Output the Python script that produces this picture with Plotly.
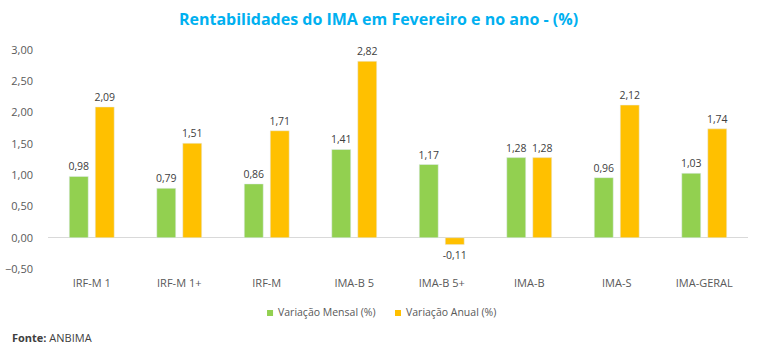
import plotly.graph_objects as go

categories = ["IRF-M 1", "IRF-M 1+", "IRF-M", "IMA-B 5", "IMA-B 5+", "IMA-B", "IMA-S", "IMA-GERAL"]
mensal = [0.98, 0.79, 0.86, 1.41, 1.17, 1.28, 0.96, 1.03]
anual = [2.09, 1.51, 1.71, 2.82, -0.11, 1.28, 2.12, 1.74]
y_ticks = [-0.5, 0, 0.5, 1.0, 1.5, 2.0, 2.5, 3.0]
series_names = ["Variação Mensal (%)", "Variação Anual (%)"]
colors = ["#92D050", "#FFC000"]

font_family = "Open Sans, DejaVu Sans, sans-serif"
tcol = "#595959"

fig = go.Figure()
for vals, name, col in zip([mensal, anual], series_names, colors):
    fig.add_trace(go.Bar(x=categories, y=vals, name=name, showlegend=False,
                         marker_color=col, texttemplate="%{y:.2f}", textposition="outside",
                         constraintext="none",
                         textfont=dict(size=10.5, color="#404040"), cliponaxis=False))

# manual compact legend (small squares + labels)
shapes = []
annotations = []
leg_sq_x = [0.3129, 0.4957]
leg_txt_x = [0.3257, 0.5086]
for sx, tx, name, col in zip(leg_sq_x, leg_txt_x, series_names, colors):
    shapes.append(dict(type="rect", xref="paper", yref="paper", x0=sx, x1=sx + 0.0086,
                       y0=-0.2146, y1=-0.1872, fillcolor=col, line=dict(width=0)))
    annotations.append(dict(text=name, xref="paper", yref="paper", x=tx, y=-0.1986,
                            xanchor="left", yanchor="middle", showarrow=False,
                            font=dict(size=10.5, color=tcol)))
annotations.append(dict(text="<b>Fonte:</b> ANBIMA", xref="paper", yref="paper",
                        x=-0.054, y=-0.315, xanchor="left", yanchor="middle", showarrow=False,
                        font=dict(size=11, color="#404040")))

fig.update_layout(
    width=757, height=355,
    paper_bgcolor="white", plot_bgcolor="white",
    separators=",.",
    font=dict(family=font_family, size=11, color=tcol),
    title=dict(text="<b>Rentabilidades do IMA em Fevereiro e no ano - (%)</b>",
               x=0.5, xanchor="center", y=0.945, yanchor="middle",
               font=dict(size=16, color="#00B0F0", family=font_family)),
    margin=dict(l=48, r=9, t=50, b=86, autoexpand=False),
    barmode="group", bargap=0.406, bargroupgap=0.27,
    showlegend=False,
    xaxis=dict(showgrid=False, showline=False, ticks="", tickfont=dict(size=11, color=tcol),
               automargin=False),
    yaxis=dict(range=[-0.5, 3.0], tickvals=y_ticks, tickformat=".2f", showgrid=False,
               zeroline=True, zerolinecolor="#D9D9D9", zerolinewidth=1, automargin=False,
               showline=False, ticks="", tickfont=dict(size=11, color=tcol), ticklabelstandoff=14),
    shapes=shapes,
    annotations=annotations,
)
fig.update_xaxes(ticklabelstandoff=6)
fig.write_html("out.html", config={"displayModeBar": False},
               post_script="document.body.style.margin='0';")
